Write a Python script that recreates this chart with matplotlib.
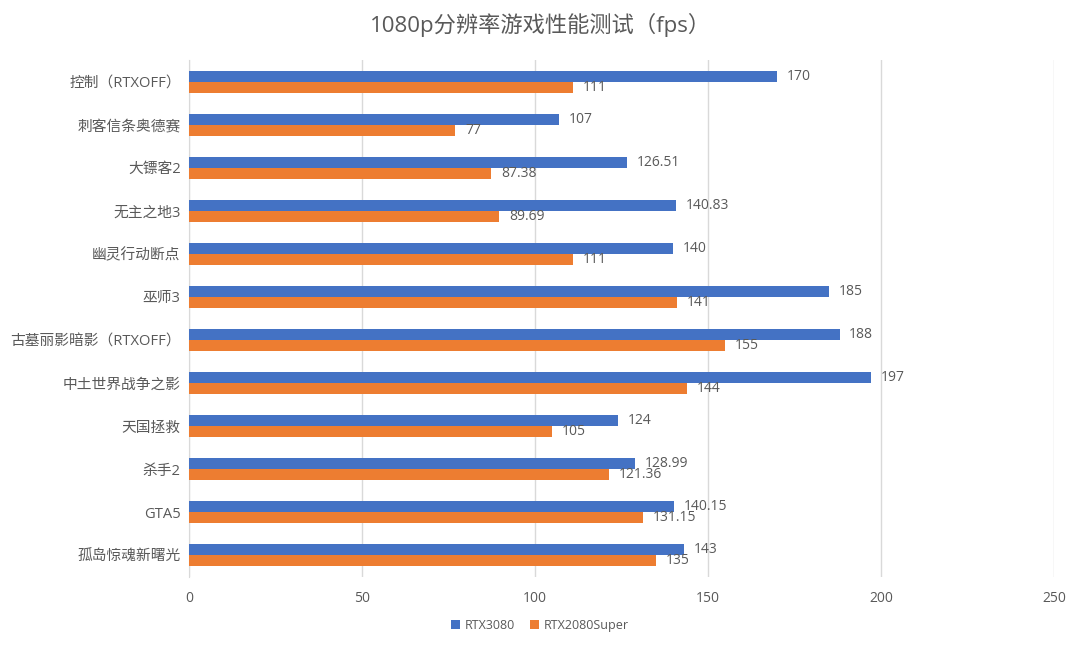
import matplotlib
matplotlib.use("Agg")
import matplotlib.pyplot as plt
import numpy as np

plt.rcParams['font.family'] = ['Open Sans', 'Noto Sans CJK SC', 'DejaVu Sans']

games = ['控制（RTXOFF）', '刺客信条奥德赛', '大镖客2', '无主之地3', '幽灵行动断点', '巫师3',
         '古墓丽影暗影（RTXOFF）', '中土世界战争之影', '天国拯救', '杀手2', 'GTA5', '孤岛惊魂新曙光']
rtx3080 = [170, 107, 126.51, 140.83, 140, 185, 188, 197, 124, 128.99, 140.15, 143]
rtx2080s = [111, 77, 87.38, 89.69, 111, 141, 155, 144, 105, 121.36, 131.15, 135]
xticks = [0, 50, 100, 150, 200, 250]

txt = '#595959'
blue = '#4472C4'
orange = '#ED7D31'

fig = plt.figure(figsize=(10.8, 6.48), dpi=100)
ax = fig.add_axes([0.175, 0.110, 0.801, 0.797])

y = np.arange(len(games))
h = 0.26
b1 = ax.barh(y - h/2, rtx3080, height=h, color=blue, label='RTX3080', zorder=3)
b2 = ax.barh(y + h/2, rtx2080s, height=h, color=orange, label='RTX2080Super', zorder=3)

for bars, vals in ((b1, rtx3080), (b2, rtx2080s)):
    for r, v in zip(bars, vals):
        ax.annotate('%g' % v, (v, r.get_y() + r.get_height()/2), xytext=(7, 0),
                    textcoords='offset points', va='center', ha='left',
                    fontsize=10, color=txt)

ax.set_ylim(len(games) - 0.5, -0.5)
ax.set_xlim(0, 250)
ax.set_xticks(xticks)
ax.set_yticks(y)
ax.set_yticklabels(games, fontsize=10.6)
ax.tick_params(axis='x', length=0, labelsize=10, colors=txt, pad=10)
ax.tick_params(axis='y', length=0, colors=txt, pad=6)
ax.grid(axis='x', color='#D9D9D9', linewidth=1, zorder=0)
for s in ['top', 'right', 'bottom']:
    ax.spines[s].set_visible(False)
ax.spines['left'].set_color('#D9D9D9')

fig.suptitle('1080p分辨率游戏性能测试（fps）', x=0.5, y=0.98, fontsize=16, color=txt)
fig.legend(handles=[b1, b2], loc='center', bbox_to_anchor=(0.5, 0.035), ncol=2,
           frameon=False, fontsize=9, labelcolor=txt, handlelength=0.7,
           handleheight=0.7, columnspacing=1.2, handletextpad=0.4)

fig.savefig('out.png', dpi=100)
